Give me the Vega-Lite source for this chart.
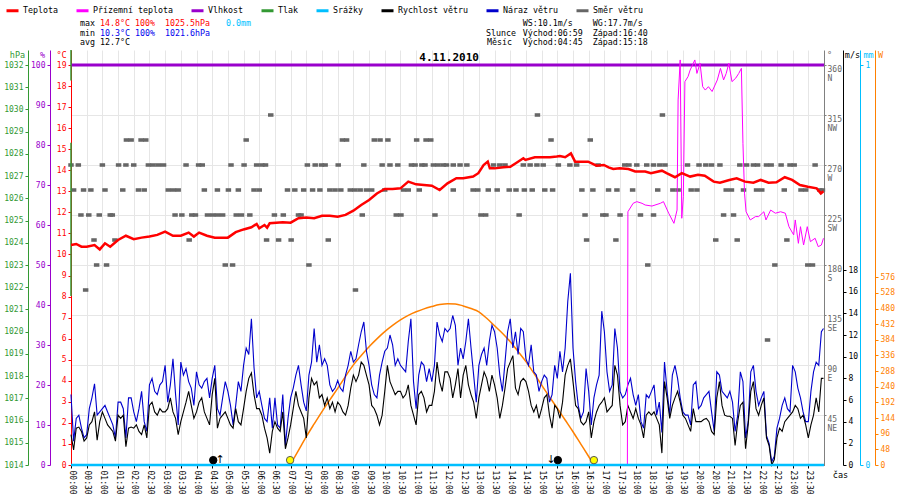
{
  "$schema": "https://vega.github.io/schema/vega-lite/v6.json",
  "autosize": "none",
  "width": 753,
  "height": 415,
  "padding": {"left": 71, "top": 50, "right": 76, "bottom": 35},
  "background": "white",
  "config": {
    "view": {"stroke": null},
    "font": "DejaVu Sans Mono",
    "axis": {
      "labelFont": "DejaVu Sans Mono", "labelFontSize": 8, "titleFont": "DejaVu Sans Mono",
      "titleFontSize": 8.5, "titleFontWeight": "normal", "tickSize": 3, "labelPadding": 2,
      "grid": false, "labelOverlap": false, "labelFlush": false, "labelBound": false,
      "titleAngle": 0, "titleAlign": "center", "titleBaseline": "middle", "titleY": 4
    }
  },
  "datasets": {
    "wind": [
      {"m":0,"s":2.8,"g":6.5},{"m":5,"s":1.4,"g":2.2},{"m":10,"s":3.4,"g":4.3},{"m":15,"s":3.5,"g":4.6},{"m":20,"s":3.1,"g":3.4},{"m":25,"s":2.2,"g":2.5},
      {"m":30,"s":2.5,"g":2.8},{"m":35,"s":3.7,"g":5.2},{"m":40,"s":4.0,"g":6.2},{"m":45,"s":4.9,"g":7.5},{"m":50,"s":2.3,"g":4.6},{"m":55,"s":4.0,"g":4.9},
      {"m":60,"s":4.9,"g":5.2},{"m":65,"s":4.3,"g":5.5},{"m":70,"s":3.7,"g":4.9},{"m":75,"s":3.4,"g":4.3},{"m":80,"s":3.1,"g":3.7},{"m":85,"s":2.2,"g":2.5},
      {"m":90,"s":4.6,"g":5.8},{"m":95,"s":4.3,"g":5.8},{"m":100,"s":4.6,"g":5.2},{"m":105,"s":1.7,"g":2.5},{"m":110,"s":3.4,"g":6.2},{"m":115,"s":3.5,"g":6.2},
      {"m":120,"s":3.4,"g":4.9},{"m":125,"s":3.7,"g":4.0},{"m":130,"s":3.1,"g":5.2},{"m":135,"s":2.8,"g":6.8},{"m":140,"s":3.7,"g":4.0},{"m":145,"s":2.5,"g":3.1},
      {"m":150,"s":5.5,"g":7.4},{"m":155,"s":5.8,"g":8.0},{"m":160,"s":4.9,"g":6.8},{"m":165,"s":4.6,"g":6.5},{"m":170,"s":5.2,"g":7.4},{"m":175,"s":4.9,"g":7.7},
      {"m":180,"s":4.9,"g":9.2},{"m":185,"s":5.2,"g":5.8},{"m":190,"s":6.2,"g":7.4},{"m":195,"s":4.9,"g":9.8},{"m":200,"s":4.3,"g":6.5},{"m":205,"s":2.8,"g":3.7},
      {"m":210,"s":4.0,"g":9.5},{"m":215,"s":4.9,"g":8.3},{"m":220,"s":5.8,"g":8.9},{"m":225,"s":6.8,"g":7.7},{"m":230,"s":5.5,"g":7.1},{"m":235,"s":4.3,"g":5.5},
      {"m":240,"s":4.9,"g":8.6},{"m":245,"s":5.8,"g":7.4},{"m":250,"s":6.2,"g":7.1},{"m":255,"s":4.9,"g":7.7},{"m":260,"s":4.3,"g":8.0},{"m":265,"s":3.7,"g":6.2},
      {"m":270,"s":6.5,"g":8.0},{"m":275,"s":8.0,"g":9.2},{"m":280,"s":3.4,"g":5.2},{"m":285,"s":4.3,"g":4.6},{"m":290,"s":4.6,"g":6.2},{"m":295,"s":4.9,"g":7.7},
      {"m":300,"s":4.3,"g":6.8},{"m":305,"s":3.7,"g":5.5},{"m":310,"s":3.4,"g":3.7},{"m":315,"s":5.2,"g":5.5},{"m":320,"s":4.0,"g":7.7},{"m":325,"s":3.7,"g":6.8},
      {"m":330,"s":5.2,"g":9.2},{"m":335,"s":6.8,"g":10.8},{"m":340,"s":8.0,"g":10.2},{"m":345,"s":8.5,"g":13.5},{"m":350,"s":6.5,"g":9.0},{"m":355,"s":5.2,"g":6.2},
      {"m":360,"s":5.2,"g":6.8},{"m":365,"s":4.6,"g":5.5},{"m":370,"s":3.4,"g":4.3},{"m":375,"s":2.5,"g":4.0},{"m":380,"s":1.1,"g":6.2},{"m":385,"s":3.1,"g":3.4},
      {"m":390,"s":4.0,"g":6.2},{"m":395,"s":3.4,"g":3.7},{"m":400,"s":3.1,"g":3.4},{"m":405,"s":4.9,"g":6.5},{"m":410,"s":1.5,"g":1.8},{"m":415,"s":2.5,"g":4.3},
      {"m":420,"s":3.7,"g":6.2},{"m":425,"s":5.2,"g":7.1},{"m":430,"s":6.8,"g":8.3},{"m":435,"s":5.5,"g":9.2},{"m":440,"s":4.9,"g":7.4},{"m":445,"s":4.3,"g":5.8},
      {"m":450,"s":2.5,"g":5.0},{"m":455,"s":6.2,"g":8.3},{"m":460,"s":8.0,"g":9.5},{"m":465,"s":7.4,"g":12.6},{"m":470,"s":7.7,"g":9.5},{"m":475,"s":6.2,"g":11.1},
      {"m":480,"s":6.5,"g":9.2},{"m":485,"s":5.5,"g":9.8},{"m":490,"s":6.2,"g":9.2},{"m":495,"s":5.2,"g":7.4},{"m":500,"s":5.8,"g":6.8},{"m":505,"s":4.9,"g":7.1},
      {"m":510,"s":5.8,"g":7.8},{"m":515,"s":5.5,"g":7.1},{"m":520,"s":4.9,"g":6.8},{"m":525,"s":4.6,"g":8.3},{"m":530,"s":5.5,"g":9.2},{"m":535,"s":7.1,"g":10.5},
      {"m":540,"s":8.3,"g":9.5},{"m":545,"s":7.7,"g":9.8},{"m":550,"s":8.3,"g":11.1},{"m":555,"s":9.5,"g":12.3},{"m":560,"s":9.2,"g":13.2},{"m":565,"s":8.3,"g":10.5},
      {"m":570,"s":7.4,"g":9.2},{"m":575,"s":5.5,"g":7.4},{"m":580,"s":5.2,"g":6.5},{"m":585,"s":4.6,"g":6.2},{"m":590,"s":3.7,"g":8.3},{"m":595,"s":4.6,"g":9.5},
      {"m":600,"s":6.8,"g":10.5},{"m":605,"s":9.2,"g":10.8},{"m":610,"s":7.7,"g":12.0},{"m":615,"s":7.1,"g":11.1},{"m":620,"s":6.5,"g":9.2},{"m":625,"s":6.8,"g":9.8},
      {"m":630,"s":6.8,"g":9.2},{"m":635,"s":6.2,"g":8.9},{"m":640,"s":6.5,"g":8.6},{"m":645,"s":7.4,"g":11.4},{"m":650,"s":5.5,"g":13.5},{"m":655,"s":4.6,"g":7.7},
      {"m":660,"s":3.7,"g":5.2},{"m":665,"s":6.5,"g":8.3},{"m":670,"s":6.8,"g":9.5},{"m":675,"s":6.2,"g":9.2},{"m":680,"s":4.9,"g":7.7},{"m":685,"s":5.5,"g":8.9},
      {"m":690,"s":5.5,"g":7.7},{"m":695,"s":6.8,"g":9.2},{"m":700,"s":9.5,"g":13.2},{"m":705,"s":7.7,"g":12.0},{"m":710,"s":6.8,"g":11.4},{"m":715,"s":8.6,"g":12.6},
      {"m":720,"s":8.6,"g":12.3},{"m":725,"s":8.0,"g":12.6},{"m":730,"s":6.2,"g":13.8},{"m":735,"s":7.4,"g":12.9},{"m":740,"s":8.9,"g":9.2},{"m":745,"s":6.2,"g":10.8},
      {"m":750,"s":8.3,"g":9.8},{"m":755,"s":9.2,"g":11.4},{"m":760,"s":7.4,"g":13.5},{"m":765,"s":6.5,"g":10.8},{"m":770,"s":5.8,"g":8.3},{"m":775,"s":4.3,"g":5.8},
      {"m":780,"s":6.2,"g":9.2},{"m":785,"s":7.4,"g":10.2},{"m":790,"s":8.6,"g":10.8},{"m":795,"s":8.0,"g":9.2},{"m":800,"s":6.8,"g":11.4},{"m":805,"s":8.3,"g":12.9},
      {"m":810,"s":7.4,"g":12.3},{"m":815,"s":6.2,"g":10.8},{"m":820,"s":4.3,"g":8.3},{"m":825,"s":5.5,"g":6.8},{"m":830,"s":7.1,"g":9.5},{"m":835,"s":8.9,"g":12.3},
      {"m":840,"s":9.5,"g":13.5},{"m":845,"s":10.1,"g":10.8},{"m":850,"s":7.1,"g":12.3},{"m":855,"s":6.5,"g":10.2},{"m":860,"s":7.7,"g":12.6},{"m":865,"s":8.0,"g":12.3},
      {"m":870,"s":7.7,"g":9.8},{"m":875,"s":6.8,"g":9.2},{"m":880,"s":5.5,"g":11.1},{"m":885,"s":4.9,"g":8.6},{"m":890,"s":5.5,"g":8.3},{"m":895,"s":4.3,"g":6.8},
      {"m":900,"s":5.2,"g":7.7},{"m":905,"s":6.2,"g":8.3},{"m":910,"s":6.5,"g":8.0},{"m":915,"s":4.6,"g":5.8},{"m":920,"s":3.4,"g":6.5},{"m":925,"s":5.5,"g":9.2},
      {"m":930,"s":5.2,"g":8.0},{"m":935,"s":4.3,"g":10.5},{"m":940,"s":5.8,"g":8.6},{"m":945,"s":8.3,"g":10.8},{"m":950,"s":9.2,"g":15.1},{"m":955,"s":9.8,"g":17.7},
      {"m":960,"s":7.7,"g":10.8},{"m":965,"s":5.5,"g":7.7},{"m":970,"s":5.2,"g":5.5},{"m":975,"s":4.0,"g":4.3},{"m":980,"s":3.7,"g":4.9},{"m":985,"s":4.0,"g":8.9},
      {"m":990,"s":4.9,"g":6.8},{"m":995,"s":2.5,"g":3.7},{"m":1000,"s":4.0,"g":6.2},{"m":1005,"s":4.9,"g":7.4},{"m":1010,"s":5.5,"g":8.3},{"m":1015,"s":5.8,"g":14.2},
      {"m":1020,"s":6.2,"g":12.3},{"m":1025,"s":4.9,"g":8.6},{"m":1030,"s":5.2,"g":6.8},{"m":1035,"s":5.5,"g":7.4},{"m":1040,"s":9.2,"g":12.6},{"m":1045,"s":8.3,"g":10.8},
      {"m":1050,"s":5.5,"g":6.8},{"m":1055,"s":3.7,"g":6.2},{"m":1060,"s":4.0,"g":6.5},{"m":1065,"s":5.5,"g":7.4},{"m":1070,"s":4.9,"g":8.0},{"m":1075,"s":4.3,"g":6.5},
      {"m":1080,"s":5.2,"g":5.5},{"m":1085,"s":4.3,"g":6.5},{"m":1090,"s":3.7,"g":4.0},{"m":1095,"s":2.5,"g":3.4},{"m":1100,"s":4.6,"g":6.5},{"m":1105,"s":4.9,"g":6.2},
      {"m":1110,"s":4.6,"g":6.8},{"m":1115,"s":4.9,"g":7.4},{"m":1120,"s":4.3,"g":4.6},{"m":1125,"s":3.7,"g":5.8},{"m":1130,"s":1.1,"g":3.0},{"m":1135,"s":7.7,"g":9.5},
      {"m":1140,"s":6.2,"g":6.8},{"m":1145,"s":4.3,"g":4.6},{"m":1150,"s":5.5,"g":8.3},{"m":1155,"s":6.2,"g":9.2},{"m":1160,"s":6.8,"g":8.0},{"m":1165,"s":5.8,"g":6.2},
      {"m":1170,"s":4.6,"g":4.9},{"m":1175,"s":4.3,"g":4.6},{"m":1180,"s":3.7,"g":4.6},{"m":1185,"s":3.1,"g":3.7},{"m":1190,"s":5.2,"g":7.4},{"m":1195,"s":4.0,"g":7.7},
      {"m":1200,"s":4.0,"g":5.2},{"m":1205,"s":4.0,"g":5.5},{"m":1210,"s":4.2,"g":6.2},{"m":1215,"s":4.3,"g":6.5},{"m":1220,"s":4.0,"g":6.8},{"m":1225,"s":3.1,"g":4.9},
      {"m":1230,"s":2.8,"g":3.1},{"m":1235,"s":6.2,"g":8.6},{"m":1240,"s":7.7,"g":8.3},{"m":1245,"s":5.5,"g":6.8},{"m":1250,"s":4.6,"g":6.5},{"m":1255,"s":4.5,"g":6.2},
      {"m":1260,"s":4.5,"g":6.8},{"m":1265,"s":4.3,"g":5.8},{"m":1270,"s":1.8,"g":3.1},{"m":1275,"s":4.0,"g":4.6},{"m":1280,"s":5.5,"g":8.6},{"m":1285,"s":5.8,"g":7.7},
      {"m":1290,"s":1.5,"g":2.5},{"m":1295,"s":3.7,"g":4.0},{"m":1300,"s":6.8,"g":8.6},{"m":1305,"s":7.7,"g":9.2},{"m":1310,"s":5.2,"g":6.8},{"m":1315,"s":4.6,"g":5.5},
      {"m":1320,"s":5.5,"g":6.2},{"m":1325,"s":6.2,"g":6.8},{"m":1330,"s":2.5,"g":2.7},{"m":1335,"s":1.8,"g":2.0},{"m":1340,"s":0.0,"g":0.3},{"m":1345,"s":0.5,"g":0.8},
      {"m":1350,"s":2.5,"g":3.4},{"m":1355,"s":3.4,"g":4.3},{"m":1360,"s":3.1,"g":5.5},{"m":1365,"s":4.0,"g":6.2},{"m":1370,"s":4.3,"g":5.2},{"m":1375,"s":4.6,"g":4.9},
      {"m":1380,"s":4.9,"g":9.2},{"m":1385,"s":5.5,"g":8.6},{"m":1390,"s":5.2,"g":7.1},{"m":1395,"s":4.3,"g":6.2},{"m":1400,"s":4.6,"g":4.9},{"m":1405,"s":3.7,"g":4.0},
      {"m":1410,"s":2.5,"g":4.0},{"m":1415,"s":3.7,"g":6.8},{"m":1420,"s":4.6,"g":8.6},{"m":1425,"s":6.2,"g":9.5},{"m":1430,"s":4.9,"g":9.2},{"m":1435,"s":8.0,"g":12.3},
      {"m":1439,"s":8.0,"g":12.6}
    ]
  },
  "encoding": {
    "x": {
      "field": "m", "type": "quantitative",
      "scale": {"domain": [0, 1440], "nice": false, "zero": false},
      "axis": {
        "values": [0,30,60,90,120,150,180,210,240,270,300,330,360,390,420,450,480,510,540,570,600,630,660,690,720,750,780,810,840,870,900,930,960,990,1020,1050,1080,1110,1140,1170,1200,1230,1260,1290,1320,1350,1380,1410],
        "labelExpr": "(datum.value < 600 ? '0' : '') + floor(datum.value / 60) + ':' + (datum.value % 60 == 0 ? '00' : '30')",
        "labelAngle": 90, "labelColor": "black", "domainColor": "black", "tickColor": "black",
        "grid": true, "gridColor": "#e6e6e6",
        "title": "čas", "titleX": 769, "titleY": 9, "titleColor": "black"
      }
    }
  },
  "layer": [
    {
      "data": {"values": [
        {"m":0,"d":270},{"m":382,"d":315},
        {"m":106,"d":292.5},{"m":115,"d":292.5},{"m":134,"d":292.5},{"m":143,"d":292.5},{"m":335,"d":292.5},{"m":519,"d":292.5},{"m":527,"d":292.5},{"m":580,"d":292.5},{"m":591,"d":292.5},{"m":606,"d":292.5},{"m":661,"d":292.5},{"m":679,"d":292.5},{"m":688,"d":292.5},
        {"m":14,"d":270},{"m":60,"d":270},{"m":91,"d":270},{"m":105,"d":270},{"m":120,"d":270},{"m":148,"d":270},{"m":157,"d":270},{"m":167,"d":270},{"m":177,"d":270},{"m":220,"d":270},{"m":244,"d":270},{"m":251,"d":270},{"m":306,"d":270},{"m":331,"d":270},{"m":355,"d":270},{"m":365,"d":270},{"m":372,"d":270},{"m":452,"d":270},{"m":467,"d":270},{"m":479,"d":270},{"m":486,"d":270},{"m":511,"d":270},{"m":560,"d":270},{"m":595,"d":270},{"m":610,"d":270},{"m":625,"d":270},{"m":651,"d":270},{"m":658,"d":270},{"m":671,"d":270},{"m":677,"d":270},{"m":693,"d":270},{"m":702,"d":270},{"m":712,"d":270},
        {"m":5,"d":247.5},{"m":24,"d":247.5},{"m":38,"d":247.5},{"m":65,"d":247.5},{"m":99,"d":247.5},{"m":129,"d":247.5},{"m":140,"d":247.5},{"m":186,"d":247.5},{"m":196,"d":247.5},{"m":205,"d":247.5},{"m":255,"d":247.5},{"m":280,"d":247.5},{"m":301,"d":247.5},{"m":320,"d":247.5},{"m":350,"d":247.5},{"m":360,"d":247.5},{"m":414,"d":247.5},{"m":428,"d":247.5},{"m":445,"d":247.5},{"m":462,"d":247.5},{"m":476,"d":247.5},{"m":495,"d":247.5},{"m":505,"d":247.5},{"m":516,"d":247.5},{"m":534,"d":247.5},{"m":543,"d":247.5},{"m":553,"d":247.5},{"m":565,"d":247.5},{"m":575,"d":247.5},{"m":600,"d":247.5},{"m":636,"d":247.5},{"m":645,"d":247.5},{"m":666,"d":247.5},
        {"m":19,"d":225},{"m":34,"d":225},{"m":54,"d":225},{"m":75,"d":225},{"m":79,"d":225},{"m":199,"d":225},{"m":212,"d":225},{"m":231,"d":225},{"m":238,"d":225},{"m":261,"d":225},{"m":271,"d":225},{"m":280,"d":225},{"m":290,"d":225},{"m":316,"d":225},{"m":326,"d":225},{"m":342,"d":225},{"m":389,"d":225},{"m":406,"d":225},{"m":435,"d":225},{"m":440,"d":225},{"m":557,"d":225},{"m":622,"d":225},{"m":631,"d":225},{"m":696,"d":225},
        {"m":44,"d":202.5},{"m":84,"d":202.5},{"m":226,"d":202.5},{"m":374,"d":202.5},{"m":397,"d":202.5},{"m":421,"d":202.5},{"m":492,"d":202.5},
        {"m":49,"d":180},{"m":68,"d":180},{"m":295,"d":180},{"m":309,"d":180},{"m":455,"d":180},
        {"m":28,"d":157.5},{"m":544,"d":157.5},
        {"m":892,"d":315},{"m":1131,"d":315},{"m":918,"d":292.5},{"m":993,"d":292.5},
        {"m":718,"d":270},{"m":731,"d":270},{"m":744,"d":270},{"m":757,"d":270},{"m":808,"d":270},{"m":820,"d":270},{"m":830,"d":270},{"m":865,"d":270},{"m":878,"d":270},{"m":891,"d":270},{"m":903,"d":270},{"m":932,"d":270},{"m":954,"d":270},{"m":967,"d":270},{"m":1008,"d":270},{"m":1059,"d":270},{"m":1067,"d":270},{"m":1082,"d":270},{"m":1101,"d":270},{"m":1114,"d":270},{"m":1126,"d":270},{"m":1136,"d":270},{"m":1179,"d":270},{"m":1201,"d":270},{"m":1214,"d":270},{"m":1225,"d":270},{"m":1241,"d":270},{"m":1279,"d":270},{"m":1292,"d":270},{"m":1305,"d":270},{"m":1313,"d":270},{"m":1330,"d":270},{"m":1339,"d":270},{"m":1358,"d":270},{"m":1375,"d":270},{"m":1383,"d":270},{"m":1423,"d":270},
        {"m":731,"d":247.5},{"m":769,"d":247.5},{"m":778,"d":247.5},{"m":798,"d":247.5},{"m":815,"d":247.5},{"m":838,"d":247.5},{"m":851,"d":247.5},{"m":867,"d":247.5},{"m":882,"d":247.5},{"m":906,"d":247.5},{"m":921,"d":247.5},{"m":977,"d":247.5},{"m":998,"d":247.5},{"m":1028,"d":247.5},{"m":1044,"d":247.5},{"m":1074,"d":247.5},{"m":1122,"d":247.5},{"m":1151,"d":247.5},{"m":1161,"d":247.5},{"m":1186,"d":247.5},{"m":1197,"d":247.5},{"m":1253,"d":247.5},{"m":1263,"d":247.5},{"m":1286,"d":247.5},{"m":1311,"d":247.5},{"m":1321,"d":247.5},{"m":1364,"d":247.5},{"m":1396,"d":247.5},{"m":1405,"d":247.5},{"m":1432,"d":247.5},{"m":1437,"d":247.5},
        {"m":784,"d":225},{"m":793,"d":225},{"m":857,"d":225},{"m":983,"d":225},{"m":1017,"d":225},{"m":1023,"d":225},{"m":1050,"d":225},{"m":1089,"d":225},{"m":1114,"d":225},{"m":1248,"d":225},{"m":1267,"d":225},
        {"m":986,"d":202.5},{"m":1042,"d":202.5},{"m":1233,"d":202.5},{"m":1274,"d":202.5},{"m":1369,"d":202.5},
        {"m":1103,"d":180},{"m":1346,"d":180},{"m":1409,"d":180},{"m":1418,"d":180},
        {"m":1332,"d":112.5}
      ]},
      "mark": {"type": "point", "shape": "M-1,-0.65H1V0.65H-1Z", "filled": true, "size": 30, "opacity": 1},
      "encoding": {
        "y": {
          "field": "d", "type": "quantitative",
          "scale": {"domain": [0, 373.5], "nice": false},
          "axis": {
            "orient": "right", "offset": 0,
            "values": [45, 90, 135, 180, 225, 270, 315, 360],
            "labelExpr": "[datum.label, datum.value == 360 ? 'N' : datum.value == 315 ? 'NW' : datum.value == 270 ? 'W' : datum.value == 225 ? 'SW' : datum.value == 180 ? 'S' : datum.value == 135 ? 'SE' : datum.value == 90 ? 'E' : 'NE']",
            "labelBaseline": "middle", "labelOffset": 4.5, "labelLineHeight": 9,
            "grid": true, "gridColor": "#e6e6e6",
            "domainColor": "#808080", "tickColor": "#808080", "labelColor": "#666666",
            "tickSize": 2, "labelPadding": 1,
            "title": "°", "titleX": 5, "titleColor": "#666666"
          }
        },
        "color": {
          "datum": "Směr větru", "type": "nominal",
          "scale": {
            "domain": ["Teplota", "Přízemní teplota", "Vlhkost", "Tlak", "Srážky", "Rychlost větru", "Náraz větru", "Směr větru"],
            "range": ["#ff0000", "#ff00ff", "#9900cc", "#339933", "#00bfff", "#000000", "#0000cc", "#666666"]
          },
          "legend": {
            "orient": "none", "legendX": -66, "legendY": -47, "direction": "horizontal", "columns": 8,
            "title": null, "symbolType": "stroke", "symbolStrokeWidth": 3, "symbolSize": 144,
            "labelFont": "DejaVu Sans Mono", "labelFontSize": 8.3, "labelColor": "black",
            "labelOffset": 3, "columnPadding": 12, "padding": 0
          }
        }
      }
    },
    {
      "data": {"values": [{"m": 0, "h": 100}, {"m": 1440, "h": 100}]},
      "mark": {"type": "line", "strokeWidth": 3},
      "encoding": {
        "y": {
          "field": "h", "type": "quantitative",
          "scale": {"domain": [0, 103.75], "nice": false},
          "axis": {
            "orient": "left", "offset": 21, "format": "d",
            "values": [0, 10, 20, 30, 40, 50, 60, 70, 80, 90, 100],
            "domainColor": "#9900cc", "tickColor": "#9900cc", "labelColor": "#9900cc",
            "title": "%", "titleX": -8, "titleColor": "#9900cc"
          }
        },
        "color": {"datum": "Vlhkost", "type": "nominal"}
      }
    },
    {
      "data": {"values": [{"m": 0, "p": 1021.6, "p2": 1028.5}, {"m": 0, "p": 1031.3, "p2": 1032.675}]},
      "mark": {"type": "rule", "strokeWidth": 1.5},
      "encoding": {
        "y": {
          "field": "p", "type": "quantitative",
          "scale": {"domain": [1014, 1032.675], "nice": false, "zero": false},
          "axis": {
            "orient": "left", "offset": 43, "format": "d",
            "values": [1014,1015,1016,1017,1018,1019,1020,1021,1022,1023,1024,1025,1026,1027,1028,1029,1030,1031,1032],
            "domainColor": "#339933", "tickColor": "#339933", "labelColor": "#339933",
            "title": "hPa", "titleX": -11, "titleColor": "#339933"
          }
        },
        "y2": {"field": "p2"},
        "color": {"datum": "Tlak", "type": "nominal"}
      }
    },
    {
      "data": {"values": [
        {"m":419,"w":0},{"m":435,"w":45},{"m":450,"w":87},{"m":465,"w":126},{"m":480,"w":164},{"m":495,"w":200},{"m":510,"w":235},{"m":525,"w":272},{"m":540,"w":307},{"m":555,"w":336},{"m":570,"w":363},{"m":585,"w":387},{"m":600,"w":409},{"m":615,"w":428},{"m":630,"w":445},{"m":645,"w":459},{"m":660,"w":470},{"m":675,"w":479},{"m":690,"w":486},{"m":705,"w":492},{"m":720,"w":495},{"m":735,"w":494},{"m":750,"w":488},{"m":765,"w":480},{"m":780,"w":470},{"m":795,"w":450},{"m":810,"w":427},{"m":825,"w":404},{"m":840,"w":378},{"m":855,"w":348},{"m":870,"w":317},{"m":885,"w":282},{"m":900,"w":245},{"m":915,"w":209},{"m":930,"w":174},{"m":945,"w":138},{"m":960,"w":102},{"m":975,"w":64},{"m":990,"w":26},{"m":1000,"w":0}
      ]},
      "mark": {"type": "line", "color": "#ff8000", "strokeWidth": 1.5, "interpolate": "monotone"},
      "encoding": {
        "y": {
          "field": "w", "type": "quantitative",
          "scale": {"domain": [0, 1273], "nice": false},
          "axis": {
            "orient": "right", "offset": 51, "format": "d",
            "values": [0, 48, 96, 144, 192, 240, 288, 336, 384, 432, 480, 528, 576],
            "domainColor": "#ff8000", "tickColor": "#ff8000", "labelColor": "#ff8000",
            "title": "W", "titleX": 5, "titleColor": "#ff8000"
          }
        }
      }
    },
    {
      "data": {"name": "wind"},
      "mark": {"type": "line", "strokeWidth": 1.1},
      "encoding": {
        "y": {
          "field": "g", "type": "quantitative",
          "scale": {"domain": [0, 38.31], "nice": false},
          "axis": {
            "orient": "right", "offset": 19, "format": "d",
            "values": [0, 2, 4, 6, 8, 10, 12, 14, 16, 18],
            "domainColor": "black", "tickColor": "black", "labelColor": "black",
            "title": "m/s", "titleX": 9, "titleColor": "black"
          }
        },
        "color": {"datum": "Náraz větru", "type": "nominal"}
      }
    },
    {
      "data": {"name": "wind"},
      "mark": {"type": "line", "strokeWidth": 1.1},
      "encoding": {
        "y": {"field": "s", "type": "quantitative", "scale": {"domain": [0, 38.31], "nice": false}, "axis": null},
        "color": {"datum": "Rychlost větru", "type": "nominal"}
      }
    },
    {
      "data": {"values": [
        {"m":1064,"tg":0},{"m":1065,"tg":12.03},{"m":1075,"tg":12.43},{"m":1082,"tg":12.51},{"m":1092,"tg":12.43},{"m":1098,"tg":12.35},{"m":1111,"tg":12.30},{"m":1127,"tg":12.43},{"m":1133,"tg":12.51},{"m":1143,"tg":11.96},{"m":1153,"tg":11.48},{"m":1159,"tg":12.11},{"m":1161,"tg":17.34},{"m":1165,"tg":19.24},{"m":1168,"tg":11.72},{"m":1171,"tg":12.75},{"m":1174,"tg":18.21},{"m":1180,"tg":18.45},{"m":1184,"tg":18.76},{"m":1193,"tg":19.24},{"m":1197,"tg":18.6},{"m":1203,"tg":19.08},{"m":1208,"tg":17.97},{"m":1213,"tg":17.81},{"m":1219,"tg":17.97},{"m":1226,"tg":17.74},{"m":1236,"tg":18.29},{"m":1242,"tg":18.84},{"m":1248,"tg":18.29},{"m":1253,"tg":18.6},{"m":1258,"tg":19.08},{"m":1264,"tg":18.21},{"m":1271,"tg":18.37},{"m":1277,"tg":18.6},{"m":1282,"tg":18.84},{"m":1285,"tg":15.28},{"m":1288,"tg":12.91},{"m":1291,"tg":12.03},{"m":1299,"tg":11.64},{"m":1309,"tg":11.80},{"m":1315,"tg":11.80},{"m":1325,"tg":12.03},{"m":1329,"tg":11.64},{"m":1338,"tg":12.11},{"m":1347,"tg":11.96},{"m":1357,"tg":12.03},{"m":1366,"tg":11.96},{"m":1373,"tg":11.32},{"m":1382,"tg":10.93},{"m":1385,"tg":11.64},{"m":1391,"tg":10.53},{"m":1395,"tg":11.32},{"m":1401,"tg":10.45},{"m":1408,"tg":11.32},{"m":1414,"tg":10.61},{"m":1423,"tg":10.77},{"m":1429,"tg":10.37},{"m":1435,"tg":10.45},{"m":1439,"tg":10.77}
      ]},
      "mark": {"type": "line", "strokeWidth": 1},
      "encoding": {
        "y": {"field": "tg", "type": "quantitative", "scale": {"domain": [0, 19.7125], "nice": false}, "axis": null},
        "color": {"datum": "Přízemní teplota", "type": "nominal"}
      }
    },
    {
      "data": {"values": [
        {"m":0,"t":10.45},{"m":10,"t":10.5},{"m":20,"t":10.37},{"m":30,"t":10.37},{"m":45,"t":10.45},{"m":55,"t":10.24},{"m":65,"t":10.53},{"m":75,"t":10.37},{"m":90,"t":10.69},{"m":105,"t":10.89},{"m":120,"t":10.73},{"m":135,"t":10.8},{"m":150,"t":10.85},{"m":165,"t":10.93},{"m":180,"t":11.09},{"m":195,"t":10.89},{"m":210,"t":10.89},{"m":225,"t":11.04},{"m":235,"t":10.85},{"m":245,"t":11.04},{"m":260,"t":10.89},{"m":275,"t":10.8},{"m":300,"t":10.8},{"m":315,"t":11.06},{"m":330,"t":11.19},{"m":345,"t":11.29},{"m":355,"t":11.45},{"m":360,"t":11.24},{"m":370,"t":11.4},{"m":375,"t":11.27},{"m":380,"t":11.48},{"m":405,"t":11.53},{"m":420,"t":11.51},{"m":435,"t":11.72},{"m":450,"t":11.76},{"m":465,"t":11.72},{"m":480,"t":11.84},{"m":495,"t":11.84},{"m":510,"t":11.79},{"m":525,"t":11.88},{"m":540,"t":12.08},{"m":555,"t":12.35},{"m":570,"t":12.59},{"m":585,"t":12.9},{"m":600,"t":13.11},{"m":615,"t":13.11},{"m":630,"t":13.14},{"m":645,"t":13.46},{"m":660,"t":13.33},{"m":675,"t":13.3},{"m":690,"t":13.27},{"m":705,"t":13.06},
        {"m":720,"t":13.38},{"m":737,"t":13.62},{"m":750,"t":13.62},{"m":769,"t":13.7},{"m":779,"t":13.86},{"m":789,"t":14.25},{"m":797,"t":14.41},{"m":801,"t":14.09},{"m":810,"t":14.09},{"m":827,"t":14.14},{"m":840,"t":14.17},{"m":852,"t":14.36},{"m":865,"t":14.57},{"m":869,"t":14.49},{"m":887,"t":14.62},{"m":899,"t":14.62},{"m":916,"t":14.62},{"m":929,"t":14.65},{"m":935,"t":14.68},{"m":945,"t":14.62},{"m":956,"t":14.8},{"m":964,"t":14.41},{"m":989,"t":14.41},{"m":1005,"t":14.22},{"m":1019,"t":14.25},{"m":1028,"t":14.14},{"m":1037,"t":14.06},{"m":1049,"t":14.09},{"m":1066,"t":14.06},{"m":1079,"t":13.94},{"m":1098,"t":13.94},{"m":1109,"t":13.86},{"m":1130,"t":13.98},{"m":1139,"t":13.86},{"m":1155,"t":13.67},{"m":1168,"t":13.86},{"m":1184,"t":13.7},{"m":1199,"t":13.79},{"m":1212,"t":13.74},{"m":1229,"t":13.46},{"m":1241,"t":13.41},{"m":1259,"t":13.54},{"m":1273,"t":13.62},{"m":1289,"t":13.46},{"m":1305,"t":13.41},{"m":1319,"t":13.54},{"m":1334,"t":13.41},{"m":1349,"t":13.43},{"m":1365,"t":13.67},{"m":1379,"t":13.54},{"m":1394,"t":13.3},{"m":1409,"t":13.22},{"m":1426,"t":13.14},{"m":1434,"t":12.9},{"m":1439,"t":13.0}
      ]},
      "mark": {"type": "line", "strokeWidth": 2.5},
      "encoding": {
        "y": {
          "field": "t", "type": "quantitative",
          "scale": {"domain": [0, 19.7125], "nice": false},
          "axis": {
            "orient": "left", "offset": 0, "format": "d",
            "values": [0,1,2,3,4,5,6,7,8,9,10,11,12,13,14,15,16,17,18,19],
            "domainColor": "#ff0000", "tickColor": "#ff0000", "labelColor": "#ff0000",
            "title": "°C", "titleX": -10, "titleColor": "#ff0000"
          }
        },
        "color": {"datum": "Teplota", "type": "nominal"}
      }
    },
    {
      "data": {"values": [{"m": 0, "r": 0}, {"m": 1440, "r": 0}]},
      "mark": {"type": "line", "strokeWidth": 2.5},
      "encoding": {
        "y": {
          "field": "r", "type": "quantitative",
          "scale": {"domain": [0, 1.0375], "nice": false},
          "axis": {
            "orient": "right", "offset": 36, "values": [0, 1], "format": "d",
            "domainColor": "#00bfff", "tickColor": "#00bfff", "labelColor": "#00bfff",
            "title": "mm", "titleX": 8, "titleColor": "#00bfff"
          }
        },
        "color": {"datum": "Srážky", "type": "nominal"}
      }
    },
    {
      "data": {"values": [
        {"m": 419, "v": 0.45, "c": "#ffff00", "sc": "#555555"},
        {"m": 1000, "v": 0.45, "c": "#ffff00", "sc": "#555555"},
        {"m": 272, "v": 0.45, "c": "#000000", "sc": "#000000"},
        {"m": 931, "v": 0.45, "c": "#000000", "sc": "#000000"}
      ]},
      "mark": {"type": "point", "shape": "circle", "size": 55, "opacity": 1, "strokeWidth": 1},
      "encoding": {
        "y": {"field": "v", "type": "quantitative", "scale": {"domain": [0, 38.31], "nice": false}, "axis": null},
        "fill": {"field": "c", "type": "nominal", "scale": null},
        "stroke": {"field": "sc", "type": "nominal", "scale": null}
      }
    },
    {
      "data": {"values": [{"m": 285, "v": 0, "txt": "↑"}, {"m": 918, "v": 0, "txt": "↓"}]},
      "mark": {"type": "text", "fontSize": 11, "baseline": "bottom", "align": "center", "color": "black", "font": "DejaVu Sans"},
      "encoding": {
        "y": {"field": "v", "type": "quantitative", "scale": {"domain": [0, 38.31], "nice": false}, "axis": null},
        "text": {"field": "txt", "type": "nominal"}
      }
    },
    {
      "data": {"values": [
        {"m": 17.2, "t": 20.95, "txt": "max", "c": "#000000"},
        {"m": 55.5, "t": 20.95, "txt": "14.8°C", "c": "#ff0000"},
        {"m": 122.4, "t": 20.95, "txt": "100%", "c": "#ff0000"},
        {"m": 179.8, "t": 20.95, "txt": "1025.5hPa", "c": "#ff0000"},
        {"m": 296.4, "t": 20.95, "txt": "0.0mm", "c": "#00bfff"},
        {"m": 863.8, "t": 20.95, "txt": "WS:10.1m/s", "c": "#000000"},
        {"m": 997.7, "t": 20.95, "txt": "WG:17.7m/s", "c": "#000000"},
        {"m": 17.2, "t": 20.47, "txt": "min", "c": "#000000"},
        {"m": 55.5, "t": 20.47, "txt": "10.3°C", "c": "#0000ee"},
        {"m": 122.4, "t": 20.47, "txt": "100%", "c": "#0000ee"},
        {"m": 179.8, "t": 20.47, "txt": "1021.6hPa", "c": "#0000ee"},
        {"m": 793.6, "t": 20.47, "txt": "Slunce", "c": "#000000"},
        {"m": 863.8, "t": 20.47, "txt": "Východ:06:59", "c": "#000000"},
        {"m": 997.7, "t": 20.47, "txt": "Západ:16:40", "c": "#000000"},
        {"m": 17.2, "t": 20.04, "txt": "avg 12.7°C", "c": "#000000"},
        {"m": 795.5, "t": 20.04, "txt": "Měsíc", "c": "#000000"},
        {"m": 863.8, "t": 20.04, "txt": "Východ:04:45", "c": "#000000"},
        {"m": 997.7, "t": 20.04, "txt": "Západ:15:18", "c": "#000000"}
      ]},
      "mark": {"type": "text", "font": "DejaVu Sans Mono", "fontSize": 8.3, "align": "left", "baseline": "middle"},
      "encoding": {
        "y": {"field": "t", "type": "quantitative", "scale": {"domain": [0, 19.7125], "nice": false}, "axis": null},
        "text": {"field": "txt", "type": "nominal"},
        "fill": {"field": "c", "type": "nominal", "scale": null}
      }
    },
    {
      "data": {"values": [{"m": 723, "t": 19.19, "txt": "4.11.2010"}]},
      "mark": {"type": "text", "font": "DejaVu Sans Mono", "fontSize": 11, "fontWeight": "bold", "align": "center", "baseline": "alphabetic", "color": "black"},
      "encoding": {
        "y": {"field": "t", "type": "quantitative", "scale": {"domain": [0, 19.7125], "nice": false}, "axis": null},
        "text": {"field": "txt", "type": "nominal"}
      }
    }
  ],
  "resolve": {"scale": {"y": "independent"}, "axis": {"y": "independent"}}
}
